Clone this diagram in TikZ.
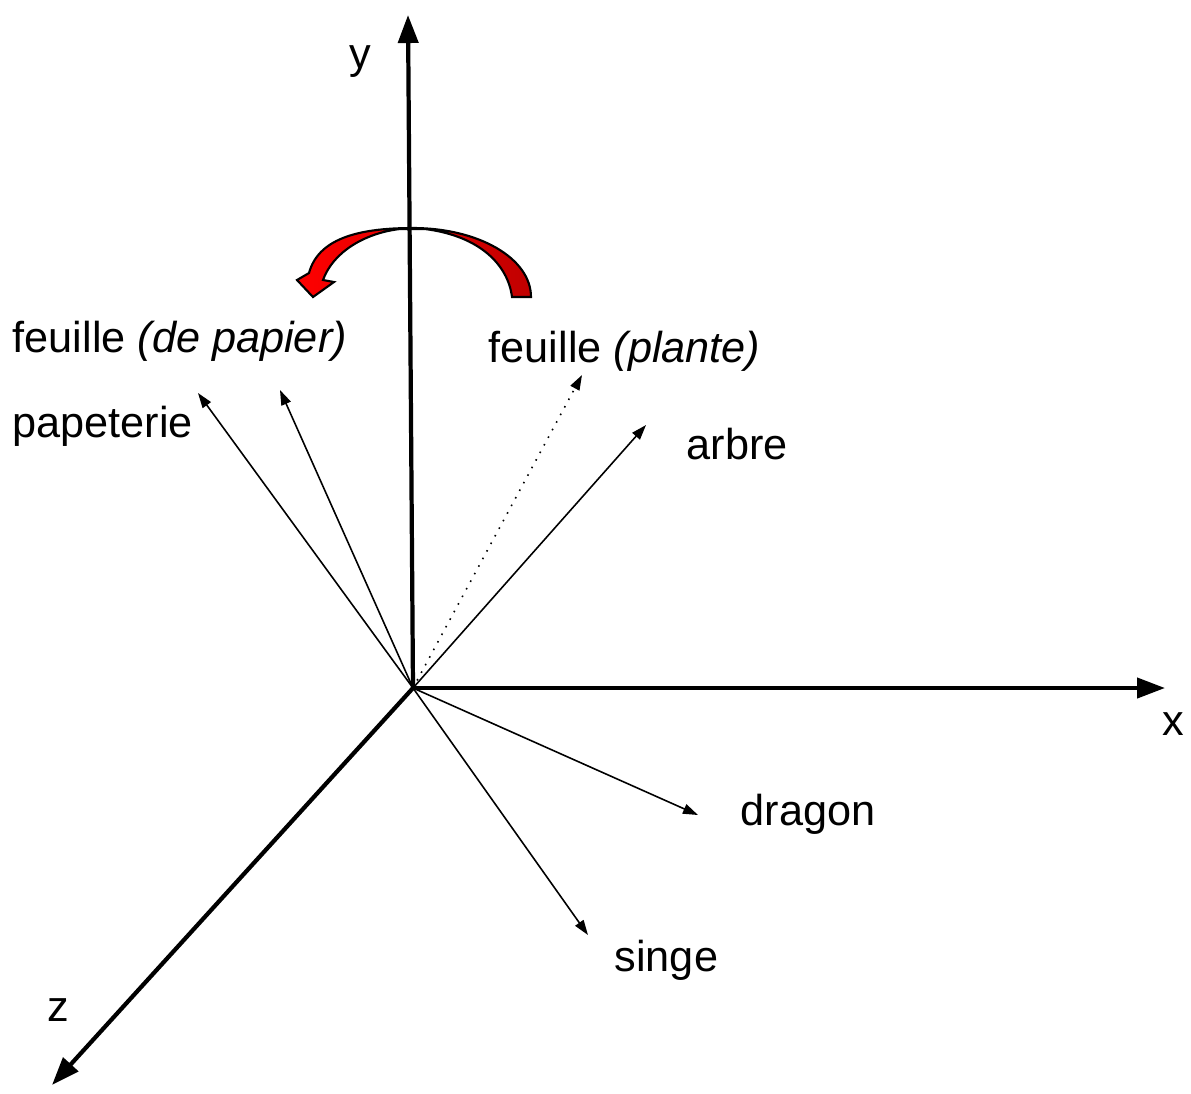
\documentclass[tikz,border=0pt]{standalone}
\usepackage{fontspec}
\setmainfont{Liberation Sans}
\usepackage{tikz}
\usetikzlibrary{arrows.meta, positioning, calc}
\definecolor{turnred}{RGB}{255,0,0}
\definecolor{turndark}{RGB}{192,0,0}

\tikzset{
  axis/.style={line width=1.2pt, -{Triangle[length=0.28cm, width=0.2cm]}},
  vec/.style={line width=0.45pt, -{Triangle[length=0.15cm, width=0.1cm]}},
  lbl/.style={font=\fontsize{12.3}{14}\selectfont, inner sep=0pt}
}

\begin{document}
\begin{tikzpicture}[x=0.01cm, y=-0.01cm]
  \useasboundingbox (0,0) rectangle (1191,1093);
  % origin and arrow ends
  \coordinate (O) at (413,688);
  \coordinate (ytip) at (408,15);
  \coordinate (xtip) at (1165,688);
  \coordinate (ztip) at (52,1085);
  \coordinate (pap) at (198,393);
  \coordinate (fpap) at (280,390);
  \coordinate (fpl) at (582,375);
  \coordinate (arb) at (646,425);
  \coordinate (drg) at (698,815);
  \coordinate (sng) at (588,935);

  % red turning arrow
  \shade[left color=turnred, right color=turndark, draw=black, line width=0.6pt]
    (413,228) .. controls (478,228) and (531,258) .. (531,297) -- (512,297)
    .. controls (508,265) and (480,236) .. (425,229) -- (400,229)
    .. controls (365,233) and (333,252) .. (323,280) -- (334,282) -- (313,297)
    -- (297,280) -- (309,273) .. controls (318,240) and (355,228) .. (413,228) -- cycle;

  % axes
  \draw[axis] (O) -- (ytip);
  \draw[axis] (O) -- (xtip);
  \draw[axis] (O) -- (ztip);

  % word vectors
  \draw[vec] (O) -- (pap);
  \draw[vec] (O) -- (fpap);
  \draw[vec, dotted] (O) -- (fpl);
  \draw[vec] (O) -- (arb);
  \draw[vec] (O) -- (drg);
  \draw[vec] (O) -- (sng);

  % labels
  \node[lbl] (ylbl) at (360,62) {y};
  \node[lbl] (xlbl) at (1173,724) {x};
  \node[lbl] (zlbl) at (58,1010) {z};
  \node[lbl, anchor=west] (fpaplbl) at (12,341) {feuille \textit{(de papier)}};
  \node[lbl, anchor=west] (paplbl) at (12,426) {papeterie};
  \node[lbl, anchor=west] (fpllbl) at (488,351) {feuille \textit{(plante)}};
  \node[lbl, anchor=west] (arblbl) at (686,444) {arbre};
  \node[lbl, anchor=west] (drglbl) at (740,814) {dragon};
  \node[lbl, anchor=west] (snglbl) at (614,960) {singe};
\end{tikzpicture}
\end{document}
